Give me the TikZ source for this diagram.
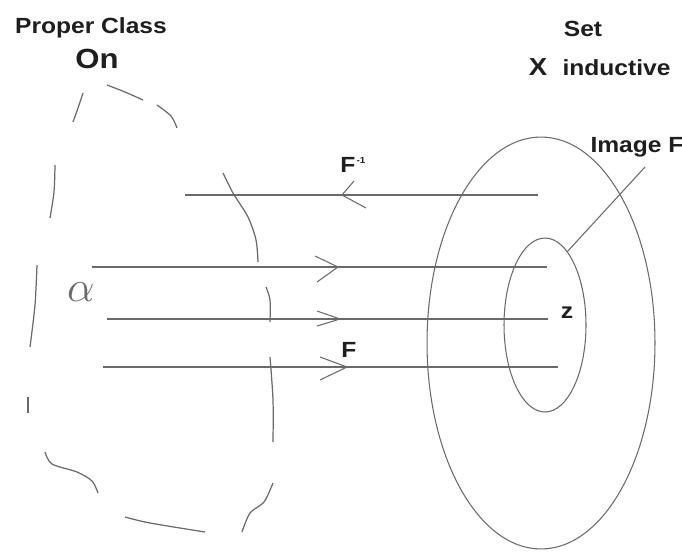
\documentclass[tikz,border=0pt]{standalone}
\usepackage{fontspec}
\setmainfont[FakeStretch=1.12]{Liberation Sans}
\usepackage{xcolor}
\definecolor{InkGray}{HTML}{6A6A6A}
\definecolor{TextGray}{HTML}{1E1E1E}
\usetikzlibrary{shapes.geometric}

\begin{document}
\begin{tikzpicture}[x=0.02cm,y=-0.02cm,line width=0.6pt,
    every node/.style={inner sep=0pt,text=TextGray,font=\bfseries\fontsize{12.5}{15}\selectfont},
    tag/.style={anchor=base},
    oval/.style={draw=InkGray,ellipse,inner sep=0pt},
    wire/.style={draw=InkGray},
    sketch/.style={draw=InkGray,line width=0.7pt}]
    \useasboundingbox (0,0) rectangle (682,551);
    \node[tag] (pc) at (91,33) {Proper Class};
    \node[tag,font=\bfseries\fontsize{15.8}{18}\selectfont] (on) at (97,68) {On};
    \node[tag] (set) at (583,36) {Set};
    \node[tag,font=\bfseries\fontsize{14}{17}\selectfont] (x) at (538,75) {X};
    \node[tag,anchor=base west] (ind) at (562,75) {inductive};
    \node[tag,anchor=base west] (imgF) at (590,152) {Image F};
    \node[tag] (finv) at (348,172) {F};
    \node[anchor=south west,font=\bfseries\fontsize{5}{6}\selectfont] (finvexp) at (356,164) {-1};
    \node[tag] (f) at (349,357) {F};
    \node[tag] (z) at (567,318) {z};
    \node[text=InkGray,font=\fontsize{25}{27}\selectfont] (alpha) at (81,292) {$\alpha$};
    \node[oval,minimum width=4.56cm,minimum height=8.24cm] (setX) at (541,343) {};
    \node[oval,minimum width=1.64cm,minimum height=3.48cm] (image) at (545,325) {};
    \coordinate (lead) at (645,167);
    \draw[wire] (lead) -- (image.73);
    \coordinate (inv-r) at (538,195);
    \coordinate (inv-l) at (185,195);
    \coordinate (inv-t) at (342,195);
    \draw[wire] (inv-r) -- (inv-l);
    \draw[wire] (inv-t) +(12,-14) -- (inv-t) -- +(24,13);
    \coordinate (a-l) at (92,267);
    \coordinate (a-r) at (547,267);
    \coordinate (a-t) at (338,267);
    \draw[wire] (a-l) -- (a-r);
    \draw[wire] (a-t) +(-23,-11) -- (a-t) -- +(-21,15);
    \coordinate (b-l) at (107,319);
    \coordinate (b-r) at (548,319);
    \coordinate (b-t) at (340,319);
    \draw[wire] (b-l) -- (b-r);
    \draw[wire] (b-t) +(-23,-8) -- (b-t) -- +(-23,7);
    \coordinate (c-l) at (103,367);
    \coordinate (c-r) at (558,367);
    \coordinate (c-t) at (347,367);
    \draw[wire] (c-l) -- (c-r);
    \draw[wire] (c-t) +(-27,-10) -- (c-t) -- +(-27,13);
    \draw[sketch] plot[smooth] coordinates {(83,93) (78,108) (73,122)};
    \draw[sketch] plot[smooth] coordinates {(107,85) (125,92) (143,100)};
    \draw[sketch] plot[smooth] coordinates {(157,105) (171,116) (177,128)};
    \draw[sketch] plot[smooth] coordinates {(55,165) (54,192) (50,218)};
    \draw[sketch] plot[smooth] coordinates {(223,173) (233,193) (248,217) (256,240) (258,262)};
    \draw[sketch] plot[smooth] coordinates {(37,265) (35,305) (30,347)};
    \draw[sketch] plot[smooth] coordinates {(266,287) (270,300) (270,322)};
    \draw[sketch] plot[smooth] coordinates {(28,397) (28,413)};
    \draw[sketch] plot[smooth] coordinates {(270,357) (273,400) (273,442)};
    \draw[sketch] plot[smooth] coordinates {(45,452) (52,464) (77,472) (92,481) (98,493)};
    \draw[sketch] plot[smooth] coordinates {(125,517) (150,523) (205,532)};
    \draw[sketch] plot[smooth] coordinates {(273,483) (264,502) (250,513) (242,532)};
  \end{tikzpicture}
\end{document}
